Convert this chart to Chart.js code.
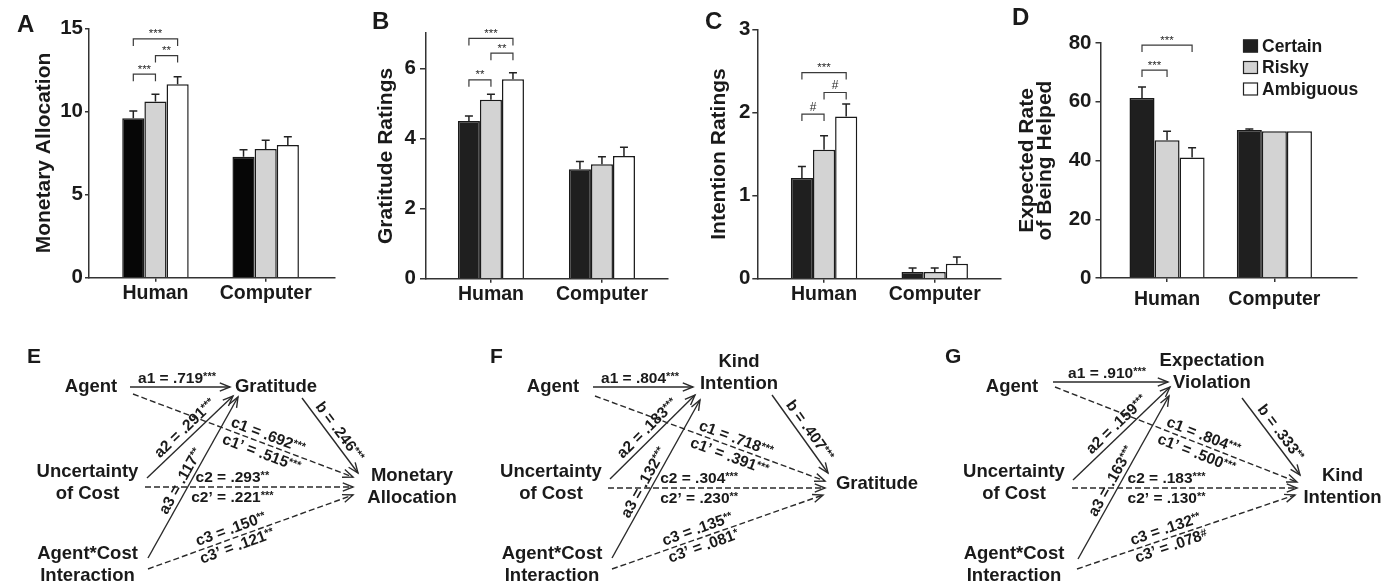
<!DOCTYPE html>
<html><head><meta charset="utf-8">
<script src="https://cdn.jsdelivr.net/npm/chart.js@4.4.1/dist/chart.umd.min.js"></script>
<style>
html,body{margin:0;padding:0;background:#fff;}
#wrap{position:relative;width:1394px;height:583px;overflow:hidden;background:#fff;}
canvas{position:absolute;}
</style></head><body><div id="wrap">
<canvas id="cA" width="345" height="310" style="left:0px;top:0px"></canvas>
<canvas id="cB" width="340" height="310" style="left:340px;top:0px"></canvas>
<canvas id="cC" width="330" height="310" style="left:680px;top:0px"></canvas>
<canvas id="cD" width="394" height="310" style="left:1000px;top:0px"></canvas>
<canvas id="cE" width="465" height="273" style="left:0px;top:310px"></canvas>
<canvas id="cF" width="465" height="273" style="left:465px;top:310px"></canvas>
<canvas id="cG" width="464" height="273" style="left:930px;top:310px"></canvas>
</div>
<script>
// ---------------- DATA ----------------
const categories = ['Human', 'Computer'];
const conditions = ['Certain', 'Risky', 'Ambiguous'];

// [condition][category]
const monetaryMean = [[9.59, 7.28], [10.59, 7.74], [11.63, 7.98]];
const monetaryErr  = [[0.44, 0.42], [0.44, 0.53], [0.46, 0.50]];
const monetaryTicks = [0, 5, 10, 15];
const monetarySig = [[0, 2, 14.36, '***'], [1, 2, 13.36, '**'], [0, 1, 12.24, '***']];

const gratitudeMean = [[4.50, 3.12], [5.10, 3.26], [5.69, 3.50]];
const gratitudeErr  = [[0.14, 0.22], [0.16, 0.22], [0.18, 0.25]];
const gratitudeTicks = [0, 2, 4, 6];
const gratitudeSig = [[0, 2, 6.85, '***'], [1, 2, 6.43, '**'], [0, 1, 5.67, '**']];

const intentionMean = [[1.21, 0.08], [1.55, 0.08], [1.95, 0.18]];
const intentionErr  = [[0.14, 0.05], [0.17, 0.05], [0.15, 0.08]];
const intentionTicks = [0, 1, 2, 3];
const intentionSig = [[0, 2, 2.48, '***'], [1, 2, 2.24, '#'], [0, 1, 1.98, '#']];

const expectedMean = [[61.3, 50.4], [46.9, 50.0], [41.0, 50.0]];
const expectedErr  = [[3.7, 0.3], [3.1, 0], [3.3, 0]];
const expectedTicks = [0, 20, 40, 60, 80];
const expectedSig = [[0, 2, 79.3, '***'], [0, 1, 70.8, '***']];

// mediation models
const pathNames = ['a1', 'a2', 'a3', 'b', 'c1', 'c1\u2019', 'c2', 'c2\u2019', 'c3', 'c3\u2019'];
const coefE = ['.719***', '.291***', '.117**', '.246***', '.692***', '.515***', '.293**', '.221***', '.150**', '.121**'];
const coefF = ['.804***', '.183***', '.132***', '.407***', '.718***', '.391***', '.304***', '.230**', '.135**', '.081*'];
const coefG = ['.910***', '.159***', '.163***', '.333**', '.804***', '.500***', '.183***', '.130**', '.132**', '.078#'];
const nodesE = ['Agent', 'Uncertainty\nof Cost', 'Agent*Cost\nInteraction', 'Gratitude', 'Monetary\nAllocation'];
const nodesF = ['Agent', 'Uncertainty\nof Cost', 'Agent*Cost\nInteraction', 'Kind\nIntention', 'Gratitude'];
const nodesG = ['Agent', 'Uncertainty\nof Cost', 'Agent*Cost\nInteraction', 'Expectation\nViolation', 'Kind\nIntention'];

// ---------------- STYLE / LAYOUT ----------------
const FONT = '"Liberation Sans", Arial, Helvetica, sans-serif';
const INK = '#1a1a1a';
Chart.defaults.font.family = FONT;
Chart.defaults.color = INK;
Chart.defaults.animation = false;

const barFill = ['#1c1c1c', '#d3d3d3', '#ffffff'];

// path diagram geometry (page pixels); edges: a1, a2, a3, b, c1, c2, c3
const diagramLayout = {
  E: { left: 0, width: 465, letter: 'E', lx: 27, ly: 53,
       nodes: [[91, 387], [87.5, 472], [87.5, 554], [276, 387], [412, 476]],
       edges: [[130, 387, 230, 387], [147, 478, 233, 396], [148, 558, 238, 397], [302, 398, 358, 473],
               [133, 394, 353, 477], [145, 487, 353, 487], [148, 569, 353, 495]] },
  F: { left: 465, width: 465, letter: 'F', lx: 25, ly: 53,
       nodes: [[553, 387], [551, 472], [552, 554], [739, 362], [877, 484]],
       edges: [[593, 387, 693, 387], [610, 479, 695, 395], [612, 558, 700, 400], [772, 395, 828, 473],
               [595, 396, 825, 481], [608, 488, 825, 488], [612, 569, 823, 495]] },
  G: { left: 930, width: 464, letter: 'G', lx: 15, ly: 53,
       nodes: [[1012, 387], [1014, 472], [1014, 554], [1212, 361], [1342.5, 476]],
       edges: [[1053, 382, 1168, 382], [1073, 480, 1170, 387], [1078, 559, 1169, 396], [1242, 398, 1300, 475],
               [1055, 387, 1297, 482], [1072, 488, 1297, 488], [1077, 569, 1295, 495]] }
};
const edgeDashed = [false, false, false, false, true, true, true];
const labelEdge = [0, 1, 2, 3, 4, 4, 5, 5, 6, 6];
const labelT = [0.47, 0.52, 0.45, 0.53, 0.6, 0.6, 0.42, 0.42, 0.42, 0.42];
const labelD = [8.5, 9.5, 8.5, 9.5, 8.5, -10.5, 9.5, -10.5, 9, -9];

// ---------------- PLUGINS ----------------
const errorBarPlugin = {
  id: 'errorBars',
  afterDatasetsDraw(chart) {
    const {ctx} = chart; const ys = chart.scales.y;
    ctx.save(); ctx.strokeStyle = '#222'; ctx.lineWidth = 1.5;
    chart.data.datasets.forEach((ds, i) => {
      const meta = chart.getDatasetMeta(i);
      meta.data.forEach((bar, j) => {
        const e = ds.err[j]; if (!e) return;
        const top = ys.getPixelForValue(ds.data[j].y + e);
        ctx.beginPath();
        ctx.moveTo(bar.x, bar.y); ctx.lineTo(bar.x, top);
        ctx.moveTo(bar.x - 4, top); ctx.lineTo(bar.x + 4, top);
        ctx.stroke();
      });
    });
    ctx.restore();
  }
};

const bracketPlugin = {
  id: 'sigBrackets',
  afterDatasetsDraw(chart, args, opts) {
    const items = opts.items || [];
    const {ctx} = chart; const ys = chart.scales.y;
    ctx.save(); ctx.strokeStyle = '#3a3a3a'; ctx.fillStyle = '#2a2a2a'; ctx.lineWidth = 1.2;
    items.forEach(([a, b, yv, lab]) => {
      const xa = chart.getDatasetMeta(a).data[0].x, xb = chart.getDatasetMeta(b).data[0].x;
      const y = ys.getPixelForValue(yv);
      ctx.beginPath(); ctx.moveTo(xa, y + 7); ctx.lineTo(xa, y); ctx.lineTo(xb, y); ctx.lineTo(xb, y + 7); ctx.stroke();
      ctx.font = (lab.indexOf('#') >= 0 ? '12px ' : '11.5px ') + FONT;
      const m = ctx.measureText(lab);
      const cy = y - 7.5;
      ctx.textAlign = 'center'; ctx.textBaseline = 'alphabetic';
      ctx.fillText(lab, (xa + xb) / 2, cy + (m.actualBoundingBoxAscent - m.actualBoundingBoxDescent) / 2);
    });
    ctx.restore();
  }
};

const letterPlugin = {
  id: 'panelLetter',
  afterDraw(chart, args, opts) {
    if (!opts.text) return;
    const {ctx} = chart;
    ctx.save(); ctx.fillStyle = INK; ctx.font = 'bold ' + opts.size + 'px ' + FONT;
    ctx.textAlign = 'left'; ctx.textBaseline = 'alphabetic';
    ctx.fillText(opts.text, opts.x, opts.y);
    ctx.restore();
  }
};

const condLegendPlugin = {
  id: 'condLegend',
  afterDraw(chart, args, opts) {
    if (!opts.show) return;
    const {ctx} = chart;
    ctx.save();
    chart.data.datasets.forEach((ds, i) => {
      const cy = opts.y + i * opts.step;
      ctx.fillStyle = ds.backgroundColor; ctx.fillRect(opts.x, cy - 6.5, 15, 13);
      ctx.strokeStyle = '#222'; ctx.lineWidth = 1.2; ctx.strokeRect(opts.x + 0.5, cy - 6, 14, 12);
      ctx.fillStyle = INK; ctx.font = 'bold 17.5px ' + FONT; ctx.textBaseline = 'middle'; ctx.textAlign = 'left';
      ctx.fillText(ds.label, opts.x + 19, cy + 1);
    });
    ctx.restore();
  }
};

function drawCoef(ctx, prefix, coef, cx, cy, angle) {
  const m = coef.match(/^(.*?)([*#]*)$/);
  const main = prefix + ' = ' + m[1];
  const sup = m[2];
  ctx.save();
  ctx.translate(cx, cy); ctx.rotate(angle);
  ctx.font = 'bold 15.5px ' + FONT; const w1 = ctx.measureText(main).width;
  ctx.font = 'bold 11px ' + FONT; const w2 = ctx.measureText(sup).width;
  const x0 = -(w1 + w2) / 2;
  ctx.textBaseline = 'middle'; ctx.textAlign = 'left'; ctx.fillStyle = INK;
  ctx.font = 'bold 15.5px ' + FONT; ctx.fillText(main, x0, 0);
  ctx.font = 'bold 11px ' + FONT; ctx.fillText(sup, x0 + w1, -2);
  ctx.restore();
}

const diagramPlugin = {
  id: 'diagram',
  afterDatasetsDraw(chart, args, opts) {
    const {ctx} = chart; const xs = chart.scales.x, ys = chart.scales.y;
    const L = opts.layout;
    ctx.save();
    // arrowheads
    ctx.strokeStyle = '#2a2a2a'; ctx.lineWidth = 1.4; ctx.setLineDash([]);
    chart.data.datasets.forEach((ds) => {
      const p0 = ds.data[0], p1 = ds.data[1];
      const x0 = xs.getPixelForValue(p0.x), y0 = ys.getPixelForValue(p0.y);
      const x1 = xs.getPixelForValue(p1.x), y1 = ys.getPixelForValue(p1.y);
      const th = Math.atan2(y1 - y0, x1 - x0), len = 11, phi = 0.38;
      ctx.beginPath();
      ctx.moveTo(x1 - len * Math.cos(th - phi), y1 - len * Math.sin(th - phi));
      ctx.lineTo(x1, y1);
      ctx.lineTo(x1 - len * Math.cos(th + phi), y1 - len * Math.sin(th + phi));
      ctx.stroke();
    });
    // nodes
    ctx.fillStyle = INK; ctx.font = 'bold 18.5px ' + FONT; ctx.textAlign = 'center'; ctx.textBaseline = 'middle';
    opts.nodes.forEach((name, i) => {
      const [nx, ny] = L.nodes[i];
      name.split('\n').forEach((ln, k) => {
        ctx.fillText(ln, xs.getPixelForValue(nx), ys.getPixelForValue(ny + k * 21.5));
      });
    });
    // coefficient labels
    opts.coefs.forEach((c, i) => {
      const e = L.edges[labelEdge[i]];
      const x0 = xs.getPixelForValue(e[0]), y0 = ys.getPixelForValue(e[1]);
      const x1 = xs.getPixelForValue(e[2]), y1 = ys.getPixelForValue(e[3]);
      const dx = x1 - x0, dy = y1 - y0, ln = Math.hypot(dx, dy);
      const nx = dy / ln, ny = -dx / ln;
      const t = labelT[i], d = labelD[i];
      drawCoef(ctx, pathNames[i], c, x0 + dx * t + nx * d, y0 + dy * t + ny * d, Math.atan2(dy, dx));
    });
    ctx.restore();
  }
};

// ---------------- BUILDERS ----------------
function barPanel(id, c) {
  const datasets = conditions.map((name, i) => ({
    label: name,
    data: categories.map((_, j) => ({x: j, y: c.mean[i][j]})),
    err: c.err[i],
    backgroundColor: i === 0 ? c.black : barFill[i],
    borderColor: '#1a1a1a',
    borderWidth: 1.5,
    categoryPercentage: c.catPct,
    barPercentage: 1.0
  }));
  return new Chart(document.getElementById(id), {
    type: 'bar',
    data: {datasets},
    options: {
      responsive: false, animation: false, devicePixelRatio: 1,
      layout: {padding: {top: c.top, right: c.right, left: 0, bottom: 0}},
      plugins: {
        legend: {display: false}, tooltip: {enabled: false},
        sigBrackets: {items: c.sig},
        panelLetter: {text: c.letter, x: c.lx, y: c.ly, size: 24},
        condLegend: c.legend || {show: false}
      },
      scales: {
        x: {
          type: 'linear', min: c.xmin, max: c.xmax, offset: false,
          afterBuildTicks: s => { s.ticks = categories.map((_, i) => ({value: i})); },
          afterFit: s => { s.height = 310 - c.bottom; },
          ticks: {callback: v => categories[v] ?? '', font: {size: 19.5, weight: 'bold'}, color: INK,
                  padding: c.xpad, autoSkip: false, maxRotation: 0, minRotation: 0},
          grid: {display: true, offset: false, drawOnChartArea: false, drawTicks: true, tickLength: 4, color: '#333', lineWidth: 1.5},
          border: {display: true, color: '#333', width: 1.5}
        },
        y: {
          min: 0, max: c.ymax,
          afterBuildTicks: s => { s.ticks = c.ticks.map(v => ({value: v})); },
          afterFit: s => { s.width = c.yw; },
          ticks: {font: {size: 20.5, weight: 'bold'}, color: INK, padding: c.ypad},
          grid: {display: true, drawOnChartArea: false, drawTicks: true, tickLength: c.tl, color: '#333', lineWidth: 1.5},
          border: {display: true, color: '#333', width: 1.5},
          title: {display: true, text: c.title, color: INK,
                  font: {size: 21, weight: 'bold', lineHeight: c.tlh || 1.2},
                  padding: {top: c.tpad, bottom: 0}}
        }
      }
    },
    plugins: [errorBarPlugin, bracketPlugin, letterPlugin, condLegendPlugin]
  });
}

function diagramPanel(id, L, nodes, coefs) {
  const datasets = L.edges.map((e, i) => ({
    data: [{x: e[0], y: e[1]}, {x: e[2], y: e[3]}],
    showLine: true, pointRadius: 0, borderColor: '#2a2a2a', borderWidth: 1.4,
    borderDash: edgeDashed[i] ? [6, 3] : [], tension: 0
  }));
  return new Chart(document.getElementById(id), {
    type: 'scatter',
    data: {datasets},
    options: {
      responsive: false, animation: false, devicePixelRatio: 1,
      layout: {padding: 0},
      plugins: {legend: {display: false}, tooltip: {enabled: false},
                diagram: {layout: L, nodes, coefs},
                panelLetter: {text: L.letter, x: L.lx, y: L.ly, size: 21}},
      scales: {
        x: {type: 'linear', display: false, min: L.left, max: L.left + L.width},
        y: {type: 'linear', display: false, min: 310, max: 583, reverse: true}
      }
    },
    plugins: [diagramPlugin, letterPlugin]
  });
}

// ---------------- CHARTS ----------------
barPanel('cA', {mean: monetaryMean, err: monetaryErr, ticks: monetaryTicks, sig: monetarySig, black: '#060606',
  title: 'Monetary Allocation', ymax: 15, top: 28.3, right: 10, bottom: 277.7, yw: 89,
  xmin: -0.603, xmax: 1.629, catPct: 0.603, ypad: 2, tl: 4, tpad: 31.5, xpad: 0, letter: 'A', lx: 17, ly: 31.5});
barPanel('cB', {mean: gratitudeMean, err: gratitudeErr, ticks: gratitudeTicks, sig: gratitudeSig, black: '#1f1f1f',
  title: 'Gratitude Ratings', ymax: 7, top: 33.2, right: 12, bottom: 278.7, yw: 86,
  xmin: -0.585, xmax: 1.595, catPct: 0.595, ypad: 4, tl: 6, tpad: 34, xpad: 0, letter: 'B', lx: 32, ly: 29});
barPanel('cC', {mean: intentionMean, err: intentionErr, ticks: intentionTicks, sig: intentionSig, black: '#1f1f1f',
  title: 'Intention Ratings', ymax: 3, top: 29.3, right: 9.3, bottom: 278.7, yw: 77.3,
  xmin: -0.603, xmax: 1.596, catPct: 0.6, ypad: 2, tl: 5, tpad: 26.5, xpad: 0, letter: 'C', lx: 25, ly: 29});
barPanel('cD', {mean: expectedMean, err: expectedErr, ticks: expectedTicks, sig: expectedSig, black: '#1f1f1f',
  title: ['Expected Rate', 'of Being Helped'], tlh: 0.88, ymax: 80, top: 43, right: 37.3, bottom: 278, yw: 100.5,
  xmin: -0.62, xmax: 1.767, catPct: 0.70, ypad: 4, tl: 5, tpad: 17.5, xpad: 6, letter: 'D', lx: 12, ly: 25,
  legend: {show: true, x: 243, y: 46, step: 21.5}});

diagramPanel('cE', diagramLayout.E, nodesE, coefE);
diagramPanel('cF', diagramLayout.F, nodesF, coefF);
diagramPanel('cG', diagramLayout.G, nodesG, coefG);
</script>
</body></html>
